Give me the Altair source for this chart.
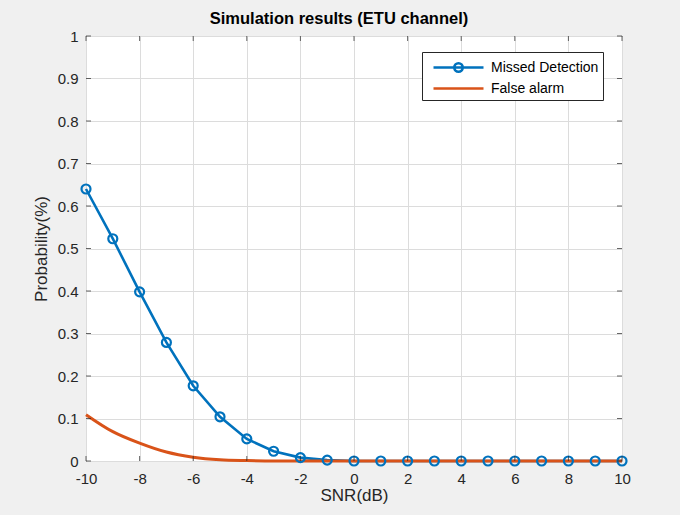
import altair as alt
import pandas as pd

snr = list(range(-10, 11))
missed_detection = [0.640, 0.523, 0.398, 0.279, 0.177, 0.104, 0.052, 0.023, 0.008, 0.002,
                    0.0, 0.0, 0.0, 0.0, 0.0, 0.0, 0.0, 0.0, 0.0, 0.0, 0.0]
false_alarm = [0.109, 0.069, 0.042, 0.021, 0.009, 0.003, 0.001, 0.0, 0.0, 0.0,
               0.0, 0.0, 0.0, 0.0, 0.0, 0.0, 0.0, 0.0, 0.0, 0.0, 0.0]
series_names = ["Missed Detection", "False alarm"]
series_colors = ["#0072BD", "#D95319"]
x_ticks = [-10, -8, -6, -4, -2, 0, 2, 4, 6, 8, 10]
y_ticks = [0, 0.1, 0.2, 0.3, 0.4, 0.5, 0.6, 0.7, 0.8, 0.9, 1.0]

md_df = pd.DataFrame({"snr": snr, "p": missed_detection, "series": series_names[0]})
fa_df = pd.DataFrame({"snr": snr, "p": false_alarm, "series": series_names[1]})
all_df = pd.concat([md_df, fa_df], ignore_index=True)

FONT = "Liberation Sans"
DARK = "#262626"

xscale = alt.Scale(domain=[-10, 10], nice=False, zero=False)
yscale = alt.Scale(domain=[0, 1], nice=False)

x_axis = alt.Axis(values=x_ticks, labelExpr="'' + datum.value", title="SNR(dB)",
                  grid=True, tickSize=0, domain=False, labelPadding=10, titlePadding=1,
                  labelFlush=False)
y_axis = alt.Axis(values=y_ticks, format="~g", title="Probability(%)",
                  grid=True, tickSize=0, domain=False, labelPadding=8, titlePadding=7,
                  labelFlush=False)

md_line = alt.Chart(md_df).mark_line(strokeWidth=2.6, color=series_colors[0]).encode(
    x=alt.X("snr:Q", scale=xscale, axis=x_axis),
    y=alt.Y("p:Q", scale=yscale, axis=y_axis),
)
md_pts = alt.Chart(md_df).mark_point(filled=False, size=81, strokeWidth=2.2,
                                     color=series_colors[0], opacity=1).encode(
    x=alt.X("snr:Q", scale=xscale), y=alt.Y("p:Q", scale=yscale))
fa_line = alt.Chart(fa_df).mark_line(strokeWidth=3, color=series_colors[1],
                                     interpolate="monotone").encode(
    x=alt.X("snr:Q", scale=xscale), y=alt.Y("p:Q", scale=yscale))

path_md = "M-2.5,0H2.5M0.42,0A0.42,0.42,0,1,1,-0.42,0A0.42,0.42,0,1,1,0.42,0"
path_fa = "M-2.5,0H2.5"
leg = alt.Legend(title=None, orient="none", legendX=336, legendY=16,
                 symbolStrokeWidth=2.6, symbolSize=400,
                 symbolOffset=21, labelOffset=21,
                 labelFontSize=14, labelFont=FONT, labelColor="#000000",
                 padding=4, rowPadding=0,
                 strokeColor=DARK, fillColor="white",
                 symbolOpacity=1)
legend_layer = alt.Chart(all_df).mark_point(opacity=0, filled=False, size=400).encode(
    x=alt.X("snr:Q", scale=xscale), y=alt.Y("p:Q", scale=yscale),
    color=alt.Color("series:N", scale=alt.Scale(domain=series_names, range=series_colors),
                    legend=leg),
    shape=alt.Shape("series:N", scale=alt.Scale(domain=series_names, range=[path_md, path_fa]),
                    legend=leg),
)

tick_x_df = pd.DataFrame({"v": x_ticks})
tick_y_df = pd.DataFrame({"v": y_ticks})
tb = alt.Chart(tick_x_df).mark_tick(orient="vertical", size=5, thickness=1, color=DARK, yOffset=-2.5).encode(
    x=alt.X("v:Q", scale=xscale), y=alt.datum(0, scale=yscale))
tt = alt.Chart(tick_x_df).mark_tick(orient="vertical", size=5, thickness=1, color=DARK, yOffset=2.5).encode(
    x=alt.X("v:Q", scale=xscale), y=alt.datum(1, scale=yscale))
tl = alt.Chart(tick_y_df).mark_tick(orient="horizontal", size=5, thickness=1, color=DARK, xOffset=2.5).encode(
    y=alt.Y("v:Q", scale=yscale), x=alt.datum(-10, scale=xscale))
tr = alt.Chart(tick_y_df).mark_tick(orient="horizontal", size=5, thickness=1, color=DARK, xOffset=-2.5).encode(
    y=alt.Y("v:Q", scale=yscale), x=alt.datum(10, scale=xscale))

chart = alt.layer(md_line, fa_line, md_pts, tb, tt, tl, tr, legend_layer).properties(
    width=536, height=425,
    title=alt.TitleParams("Simulation results (ETU channel)", font=FONT, fontSize=16.5,
                          fontWeight="bold", color="#000000", offset=2, dx=-15, anchor="middle"),
    autosize=alt.AutoSizeParams(type="none"),
    padding={"left": 86, "top": 36, "right": 58, "bottom": 54},
    background="#f0f0f0",
).configure_view(
    fill="white", stroke=DARK, strokeWidth=1
).configure_axis(
    labelFont=FONT, labelFontSize=15, labelColor=DARK,
    titleFont=FONT, titleFontSize=17, titleFontWeight="normal", titleColor=DARK,
    gridColor="#dcdcdc", gridWidth=1,
)

chart.save("out.html", embed_options={"renderer": "svg", "actions": False})
